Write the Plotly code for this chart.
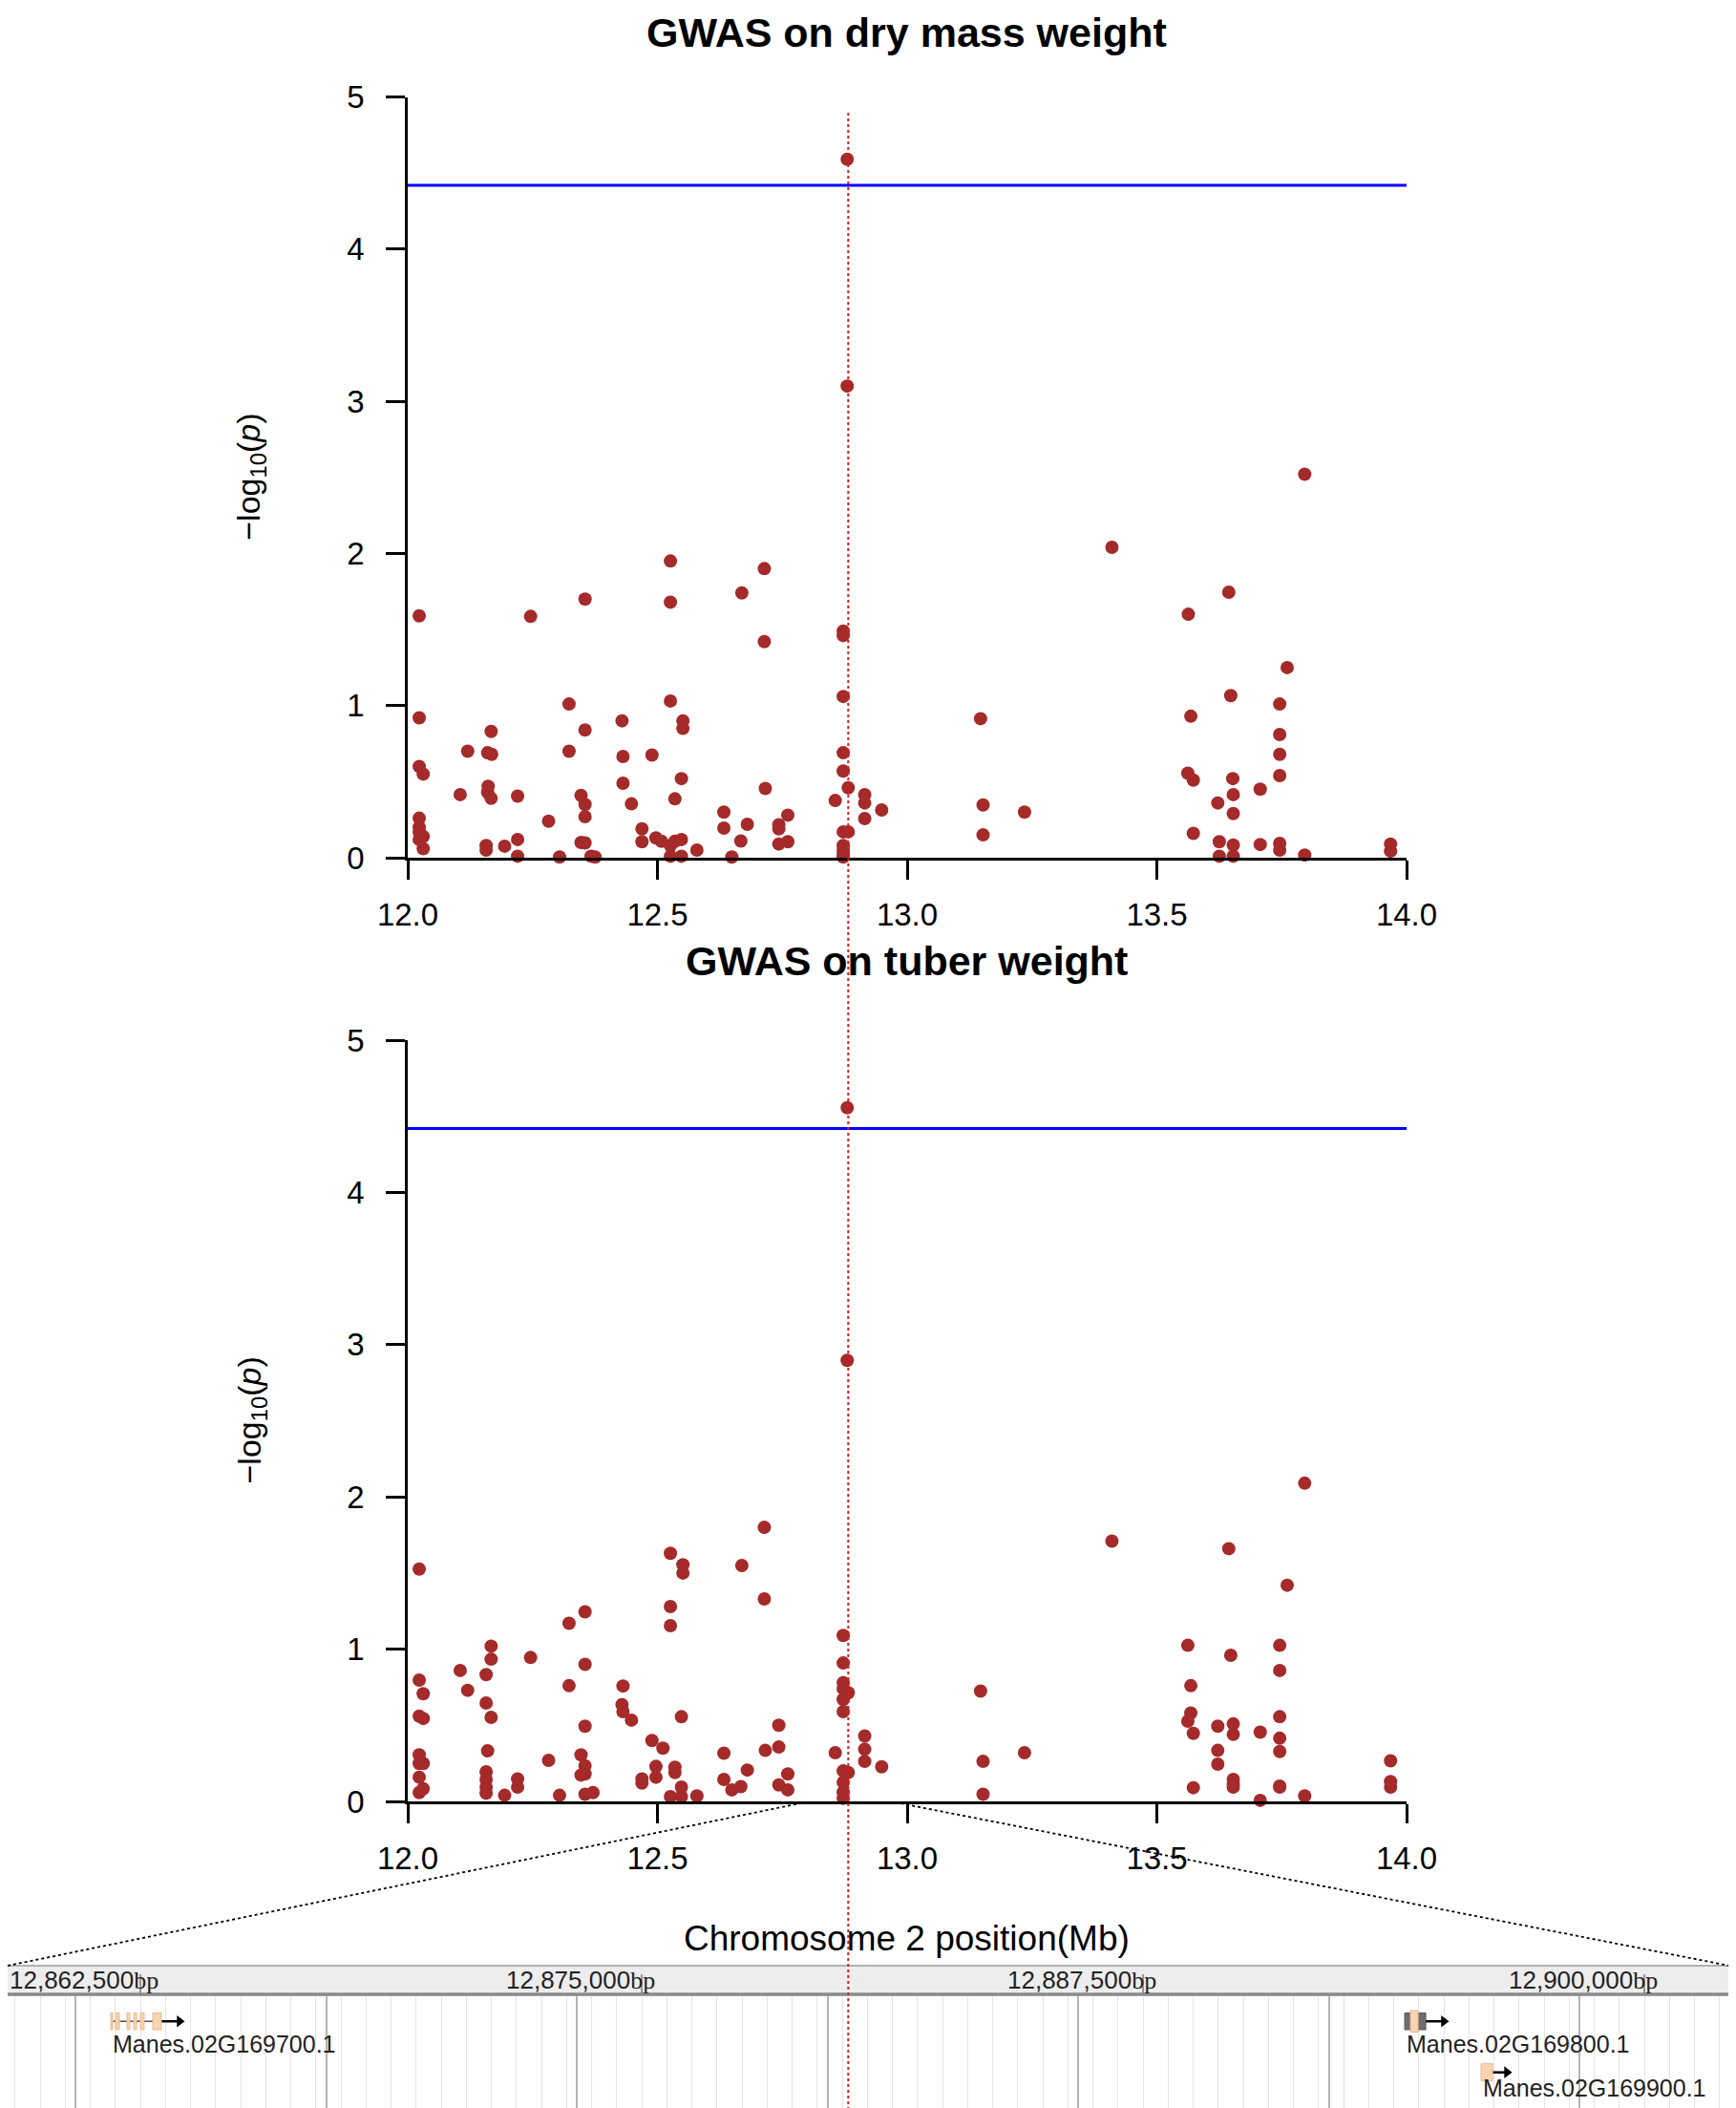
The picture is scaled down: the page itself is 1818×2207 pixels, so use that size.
import plotly.graph_objects as go

# ---------------- data ----------------
TOP_TITLE = "GWAS on dry mass weight"
BOTTOM_TITLE = "GWAS on tuber weight"
X_TITLE = "Chromosome 2 position(Mb)"
X_TICKS = [12.0, 12.5, 13.0, 13.5, 14.0]
X_TICK_LABELS = ["12.0", "12.5", "13.0", "13.5", "14.0"]
Y_TICKS = [0, 1, 2, 3, 4, 5]
THRESHOLD = 4.42
LEAD_SNP_MB = 12.882
ZOOM_FROM_MB = [12.786, 12.976]

TOP_POS = [12.880, 12.880, 13.796, 13.410, 12.526, 12.714, 12.669, 13.644, 12.355, 12.526,
           12.023, 12.246, 13.563, 12.872, 12.872, 12.714, 13.761, 12.872, 13.648, 12.526,
           12.323, 13.746, 12.023, 13.147, 13.568, 12.429, 12.551, 12.551, 12.167, 12.355,
           13.746, 12.120, 12.160, 12.168, 12.323, 12.431, 12.489, 12.872, 13.746, 12.023,
           12.031, 12.872, 13.562, 13.573, 13.746, 13.652, 12.548, 12.431, 12.882, 12.716,
           13.707, 12.161, 12.160, 12.167, 12.105, 12.220, 12.347, 13.653, 12.915, 12.856,
           12.915, 12.355, 12.448, 12.535, 13.622, 13.152, 12.915, 12.949, 13.235, 13.653,
           12.023, 12.355, 12.633, 12.761, 12.282, 12.023, 12.023, 12.031, 12.023, 12.031,
           12.633, 12.680, 12.743, 12.743, 12.469, 12.469, 12.347, 12.355, 13.573, 13.152,
           12.497, 12.508, 12.526, 12.535, 12.548, 12.194, 12.220, 12.157, 12.157, 12.667,
           12.743, 12.761, 12.872, 12.882, 12.872, 12.872, 12.872, 12.579, 13.625, 13.653,
           13.707, 13.746, 13.746, 13.796, 13.968, 13.968, 12.220, 12.304, 12.367, 12.375,
           12.526, 12.548, 12.649, 12.872, 13.625, 13.653]
TOP_LOGP = [4.59, 3.10, 2.52, 2.04, 1.95, 1.90, 1.74, 1.745, 1.70, 1.68,
            1.59, 1.586, 1.60, 1.49, 1.46, 1.42, 1.25, 1.06, 1.066, 1.03,
            1.01, 1.01, 0.92, 0.914, 0.93, 0.90, 0.90, 0.85, 0.83, 0.84,
            0.81, 0.70, 0.69, 0.68, 0.70, 0.665, 0.675, 0.69, 0.68, 0.60,
            0.55, 0.57, 0.556, 0.51, 0.54, 0.52, 0.52, 0.49, 0.46, 0.455,
            0.45, 0.47, 0.43, 0.39, 0.415, 0.405, 0.41, 0.415, 0.415, 0.376,
            0.36, 0.35, 0.354, 0.387, 0.36, 0.347, 0.257, 0.314, 0.30, 0.29,
            0.26, 0.27, 0.30, 0.28, 0.24, 0.20, 0.17, 0.14, 0.12, 0.06,
            0.195, 0.22, 0.217, 0.19, 0.19, 0.105, 0.10, 0.097, 0.16, 0.15,
            0.13, 0.108, 0.08, 0.108, 0.12, 0.076, 0.12, 0.08, 0.05, 0.11,
            0.09, 0.105, 0.17, 0.17, 0.08, 0.05, 0.02, 0.05, 0.105, 0.083,
            0.087, 0.094, 0.05, 0.018, 0.09, 0.043, 0.01, 0.005, 0.01, 0.005,
            0.01, 0.01, 0.005, 0.005, 0.01, 0.01]

BOT_POS = [12.880, 12.880, 13.796, 13.410, 12.714, 13.644, 12.526, 12.551, 12.551, 12.669,
           12.023, 13.761, 12.714, 12.526, 12.355, 12.323, 12.526, 12.872, 12.167, 13.562,
           13.746, 12.167, 12.246, 13.648, 12.872, 12.105, 12.157, 12.355, 13.746, 12.023,
           12.872, 12.031, 12.120, 12.872, 12.882, 13.147, 12.323, 12.431, 13.568, 12.872,
           12.157, 12.429, 12.431, 12.448, 12.872, 12.023, 12.031, 12.167, 12.548, 13.568,
           13.562, 13.746, 12.743, 12.355, 13.622, 13.653, 13.653, 13.573, 13.707, 12.915,
           12.489, 13.746, 12.511, 12.743, 12.716, 12.915, 13.746, 13.622, 12.160, 12.633,
           12.856, 13.235, 12.023, 12.347, 12.023, 12.031, 12.282, 12.915, 13.152, 12.355,
           13.622, 12.949, 12.497, 12.535, 12.872, 12.882, 12.535, 12.680, 12.157, 12.347,
           12.355, 12.761, 12.023, 12.469, 12.497, 12.220, 12.157, 12.633, 13.653, 12.469,
           12.872, 12.220, 12.157, 12.667, 12.649, 12.743, 13.573, 13.653, 13.653, 13.746,
           13.746, 12.761, 12.548, 12.031, 12.023, 12.371, 12.355, 12.872, 12.157, 12.194,
           12.304, 12.526, 12.548, 12.579, 13.152, 13.796, 12.872, 13.707, 13.968, 13.968,
           13.968]
BOT_LOGP = [4.556, 2.897, 2.09, 1.71, 1.80, 1.66, 1.63, 1.555, 1.50, 1.55,
            1.526, 1.42, 1.33, 1.28, 1.245, 1.17, 1.154, 1.09, 1.02, 1.025,
            1.025, 0.934, 0.945, 0.96, 0.909, 0.86, 0.833, 0.90, 0.86, 0.797,
            0.78, 0.707, 0.73, 0.74, 0.714, 0.725, 0.76, 0.758, 0.76, 0.67,
            0.646, 0.635, 0.59, 0.534, 0.59, 0.56, 0.545, 0.552, 0.556, 0.58,
            0.527, 0.556, 0.50, 0.494, 0.494, 0.509, 0.44, 0.447, 0.455, 0.43,
            0.40, 0.415, 0.35, 0.357, 0.335, 0.343, 0.328, 0.335, 0.332, 0.317,
            0.32, 0.32, 0.306, 0.306, 0.249, 0.249, 0.27, 0.263, 0.263, 0.234,
            0.245, 0.227, 0.23, 0.224, 0.20, 0.19, 0.19, 0.206, 0.195, 0.173,
            0.18, 0.18, 0.159, 0.148, 0.159, 0.148, 0.144, 0.144, 0.144, 0.12,
            0.126, 0.094, 0.094, 0.097, 0.076, 0.108, 0.09, 0.094, 0.115, 0.10,
            0.094, 0.076, 0.094, 0.083, 0.058, 0.058, 0.047, 0.06, 0.054, 0.04,
            0.04, 0.032, 0.032, 0.036, 0.047, 0.036, 0.02, 0.007, 0.267, 0.13,
            0.094]

# genome browser track (bp)
TRACK_TICKS_BP = [12862500, 12875000, 12887500, 12900000]
TRACK_TICK_LABELS = ["12,862,500", "12,875,000", "12,887,500", "12,900,000"]
TRACK_GRID_START_BP = 12860881
GENE_NAMES = ["Manes.02G169700.1", "Manes.02G169800.1", "Manes.02G169900.1"]
GENE_START = [12861762, 12894025, 12895930]
GENE_END = [12863024, 12894549, 12896216]
GENE_ARROW_END = [12863476, 12895000, 12896573]
GENE_ROW = [0, 0, 1]
GENE_EXONS = [
    [(12861762, 12861810), (12861881, 12861976), (12862167, 12862238),
     (12862333, 12862405), (12862500, 12862595), (12862810, 12863024)],
    [(12894025, 12894549)],
    [(12895930, 12896216)],
]
GENE_UTR = [[], [(12894168, 12894359)], []]

# ---------------- layout constants (screen pixels) ----------------
W, H = 1818, 2207
PAGE_OFFSET = 8            # default page margin around the figure
PLOT_X0, PLOT_X1 = 427, 1473
TOP_Y5, TOP_Y0 = 101.5, 898
BOT_Y5, BOT_Y0 = 1089, 1886
TRACK_TOP = 2090
BAND_TOP = 2058
RULER_PX = (147, 1722)     # screen x of first / last ruler tick

def px(x):
    return (x - PAGE_OFFSET) / W

def py(y):
    return 1 - (y - PAGE_OFFSET) / H

XDOM = [px(PLOT_X0), px(PLOT_X1)]

def mb_to_paper(mb):
    return XDOM[0] + (mb - X_TICKS[0]) / (X_TICKS[-1] - X_TICKS[0]) * (XDOM[1] - XDOM[0])

BP_PER_PX = (TRACK_TICKS_BP[-1] - TRACK_TICKS_BP[0]) / (RULER_PX[1] - RULER_PX[0])

def screen_to_bp(x):
    return TRACK_TICKS_BP[0] + (x - RULER_PX[0]) * BP_PER_PX

TRACK_RANGE = [screen_to_bp(PAGE_OFFSET), screen_to_bp(PAGE_OFFSET + W)]

FONT = "Liberation Sans, Arial, sans-serif"
PT_COLOR = "#A52A2A"

fig = go.Figure()

fig.add_trace(go.Scatter(x=TOP_POS, y=TOP_LOGP, mode="markers", xaxis="x", yaxis="y",
                         marker=dict(color=PT_COLOR, size=14, line=dict(width=0)),
                         cliponaxis=False, showlegend=False, hoverinfo="skip"))
fig.add_trace(go.Scatter(x=BOT_POS, y=BOT_LOGP, mode="markers", xaxis="x2", yaxis="y2",
                         marker=dict(color=PT_COLOR, size=14, line=dict(width=0)),
                         cliponaxis=False, showlegend=False, hoverinfo="skip"))

axis_common = dict(showline=True, linecolor="black", linewidth=2.5, ticks="outside",
                   ticklen=20, tickwidth=2.5, tickcolor="black", showgrid=False,
                   zeroline=False, mirror=False, automargin=False,
                   tickfont=dict(family=FONT, size=33, color="black"))

xax = dict(axis_common, range=[X_TICKS[0], X_TICKS[-1]], tickvals=X_TICKS,
           ticktext=X_TICK_LABELS, domain=XDOM, ticklabelstandoff=9)
yax = dict(axis_common, range=[0, 5], tickvals=Y_TICKS, ticklabelstandoff=16)

xax3 = dict(domain=[0, 1], range=TRACK_RANGE, anchor="y3", showline=False,
            showticklabels=False, ticks="", zeroline=False, automargin=False,
            showgrid=True, gridcolor="#b4b4b4", gridwidth=1.5,
            tick0=TRACK_GRID_START_BP, dtick=6250,
            minor=dict(dtick=625, showgrid=True, gridcolor="#e4e4e4", gridwidth=1))
yax3 = dict(domain=[0, py(TRACK_TOP)], range=[0, 1], anchor="x3", showgrid=False,
            showticklabels=False, zeroline=False, showline=False, ticks="",
            automargin=False)

fig.update_layout(
    width=W, height=H,
    margin=dict(l=0, r=0, t=0, b=0, pad=0, autoexpand=False),
    paper_bgcolor="white", plot_bgcolor="rgba(0,0,0,0)",
    xaxis=dict(xax, anchor="y"),
    yaxis=dict(yax, domain=[py(TOP_Y0), py(TOP_Y5)], anchor="x"),
    xaxis2=dict(xax, anchor="y2"),
    yaxis2=dict(yax, domain=[py(BOT_Y0), py(BOT_Y5)], anchor="x2"),
    xaxis3=xax3, yaxis3=yax3,
)

shapes = []
annotations = []

# significance threshold
for xr, yr in (("x", "y"), ("x2", "y2")):
    shapes.append(dict(type="line", xref=xr, yref=yr, x0=X_TICKS[0], x1=X_TICKS[-1],
                       y0=THRESHOLD, y1=THRESHOLD, line=dict(color="#0000FF", width=3),
                       layer="below"))

# genome browser ruler band
shapes.append(dict(type="rect", xref="paper", yref="paper", x0=0, x1=1,
                   y0=py(TRACK_TOP), y1=py(BAND_TOP), fillcolor="#ededed",
                   line=dict(width=0), layer="below"))
shapes.append(dict(type="line", xref="paper", yref="paper", x0=0, x1=1,
                   y0=py(BAND_TOP), y1=py(BAND_TOP), line=dict(color="#9a9a9a", width=1.5)))
shapes.append(dict(type="line", xref="paper", yref="paper", x0=0, x1=1,
                   y0=py(TRACK_TOP - 2), y1=py(TRACK_TOP - 2), line=dict(color="#8a8a8a", width=3.5)))
BP_SPAN = "<span style='font-family:Liberation Serif, Times New Roman, serif'>bp</span>"
for i, (bp, lab) in enumerate(zip(TRACK_TICKS_BP, TRACK_TICK_LABELS)):
    shapes.append(dict(type="line", xref="x3", yref="paper", x0=bp, x1=bp,
                       y0=py(TRACK_TOP - 3), y1=py(BAND_TOP + 9),
                       line=dict(color="#777777", width=1.5)))
    if i == 0:
        # first label starts at the left edge of the ruler
        annotations.append(dict(xref="paper", yref="paper", x=0, y=py(2073), xanchor="left",
                                yanchor="middle", showarrow=False, text=lab + BP_SPAN,
                                font=dict(family=FONT, size=26, color="#222222")))
    else:
        annotations.append(dict(xref="x3", yref="paper", x=bp, y=py(2073), xanchor="right",
                                yanchor="middle", xshift=16, showarrow=False, text=lab + BP_SPAN,
                                font=dict(family=FONT, size=26, color="#222222")))

# genes
ROW_Y = {0: (0.72, 0.86, 0.60), 1: (0.29, 0.435, 0.23)}
arrow_x, arrow_y = [], []
for name, s, e, a, row, exons, utr in zip(GENE_NAMES, GENE_START, GENE_END, GENE_ARROW_END,
                                           GENE_ROW, GENE_EXONS, GENE_UTR):
    y0, y1, ylab = ROW_Y[row]
    ym = (y0 + y1) / 2
    shapes.append(dict(type="line", xref="x3", yref="y3", x0=s, x1=e, y0=ym, y1=ym,
                       line=dict(color="#555555", width=1.5)))
    shapes.append(dict(type="line", xref="x3", yref="y3", x0=e, x1=a, y0=ym, y1=ym,
                       line=dict(color="black", width=2.5)))
    for (a0, a1) in exons:
        col = "#fad4ae" if not utr else "#6e6e6e"
        shapes.append(dict(type="rect", xref="x3", yref="y3", x0=a0, x1=a1, y0=y0, y1=y1,
                           fillcolor=col, line=dict(color="#e8b890" if not utr else "#555555", width=1)))
    for (a0, a1) in utr:
        shapes.append(dict(type="rect", xref="x3", yref="y3", x0=a0, x1=a1, y0=y0 - 0.02, y1=y1 + 0.02,
                           fillcolor="#fad4ae", line=dict(color="#e8b890", width=1)))
    arrow_x.append(a)
    arrow_y.append(ym)
    annotations.append(dict(xref="x3", yref="y3", x=s, y=ylab, xanchor="left", yanchor="middle",
                            showarrow=False, text=name,
                            font=dict(family=FONT, size=25, color="#222222")))

fig.add_trace(go.Scatter(x=arrow_x, y=arrow_y, mode="markers", xaxis="x3", yaxis="y3",
                         marker=dict(symbol="triangle-right", size=11, color="black"),
                         cliponaxis=False, showlegend=False, hoverinfo="skip"))

# dotted connector lines from the Mb axis to the browser track
shapes.append(dict(type="line", xref="paper", yref="paper", x0=0, y0=py(BAND_TOP),
                   x1=mb_to_paper(ZOOM_FROM_MB[0]), y1=py(BOT_Y0 + 2),
                   line=dict(color="black", width=1.8, dash="dot")))
shapes.append(dict(type="line", xref="paper", yref="paper", x0=mb_to_paper(ZOOM_FROM_MB[1]),
                   y0=py(BOT_Y0 + 1), x1=px(1811), y1=py(BAND_TOP),
                   line=dict(color="black", width=1.8, dash="dot")))

# lead SNP vertical dotted line
shapes.append(dict(type="line", xref="x", yref="paper", x0=LEAD_SNP_MB, x1=LEAD_SNP_MB,
                   y0=0, y1=py(118), line=dict(color="#e0181c", width=2, dash="dot"),
                   layer="above"))

# titles
annotations.append(dict(xref="paper", yref="paper", x=mb_to_paper(13.0), y=1,
                        xanchor="center", yanchor="top",
                        showarrow=False, text="<b>" + TOP_TITLE + "</b>",
                        font=dict(family=FONT, size=43, color="black")))
annotations.append(dict(xref="paper", yref="paper", x=mb_to_paper(13.0), y=py(1006),
                        xanchor="center", yanchor="middle", showarrow=False,
                        text="<b>" + BOTTOM_TITLE + "</b>",
                        font=dict(family=FONT, size=43, color="black")))
annotations.append(dict(xref="paper", yref="paper", x=mb_to_paper(13.0), y=py(2029),
                        xanchor="center", yanchor="middle", showarrow=False, text=X_TITLE,
                        font=dict(family=FONT, size=37, color="black")))
for y5, y0 in ((TOP_Y5, TOP_Y0), (BOT_Y5, BOT_Y0)):
    annotations.append(dict(xref="paper", yref="paper", x=px(263), y=py((y5 + y0) / 2),
                            xanchor="center", yanchor="middle", showarrow=False, textangle=-90,
                            text="\u2212log<sub>10</sub>(<i>p</i>)",
                            font=dict(family=FONT, size=34, color="black")))

fig.update_layout(shapes=shapes, annotations=annotations)
fig.write_html("out.html")
